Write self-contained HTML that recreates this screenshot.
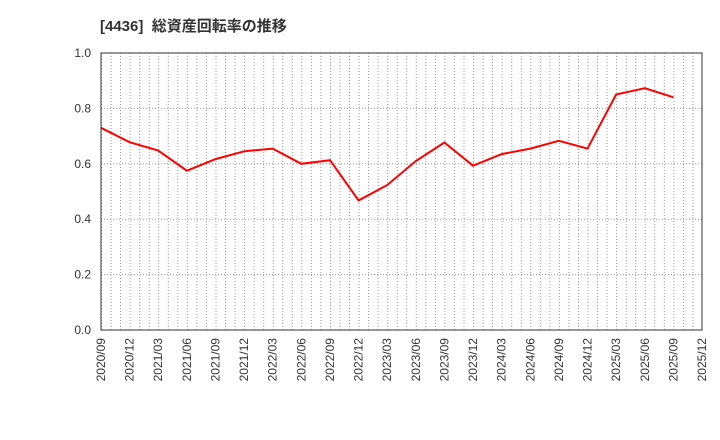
<!DOCTYPE html><html><head><style>body{margin:0;background:#fff}svg{display:block;font-family:"Liberation Sans","Noto Sans CJK JP",sans-serif}</style></head><body>
<svg width="720" height="440" xmlns="http://www.w3.org/2000/svg">
<defs><pattern id="vg" x="101" y="53" width="9.5397" height="277" patternUnits="userSpaceOnUse"><line x1="0.5" y1="0" x2="0.5" y2="277" stroke="#999" stroke-width="1" stroke-dasharray="1,2"/></pattern></defs>
<text x="100" y="31" font-size="15" font-weight="bold" fill="#333" xml:space="preserve">[4436]  総資産回転率の推移</text>
<rect x="101" y="53" width="601" height="277" fill="url(#vg)"/>
<g stroke="#999" stroke-width="1" stroke-dasharray="1,2">
<line x1="101" y1="274.6" x2="702" y2="274.6"/><line x1="101" y1="219.2" x2="702" y2="219.2"/><line x1="101" y1="163.8" x2="702" y2="163.8"/><line x1="101" y1="108.4" x2="702" y2="108.4"/>
</g>
<g font-size="12" fill="#333" text-anchor="end">
<text x="91" y="334">0.0</text><text x="91" y="278.6">0.2</text><text x="91" y="223.2">0.4</text><text x="91" y="167.8">0.6</text><text x="91" y="112.4">0.8</text><text x="91" y="57">1.0</text>
</g>
<g font-size="12" fill="#333" text-anchor="end">
<text transform="translate(105,338) rotate(-90)">2020/09</text>
<text transform="translate(133.6,338) rotate(-90)">2020/12</text>
<text transform="translate(162.2,338) rotate(-90)">2021/03</text>
<text transform="translate(190.9,338) rotate(-90)">2021/06</text>
<text transform="translate(219.5,338) rotate(-90)">2021/09</text>
<text transform="translate(248.1,338) rotate(-90)">2021/12</text>
<text transform="translate(276.7,338) rotate(-90)">2022/03</text>
<text transform="translate(305.3,338) rotate(-90)">2022/06</text>
<text transform="translate(334,338) rotate(-90)">2022/09</text>
<text transform="translate(362.6,338) rotate(-90)">2022/12</text>
<text transform="translate(391.2,338) rotate(-90)">2023/03</text>
<text transform="translate(419.8,338) rotate(-90)">2023/06</text>
<text transform="translate(448.4,338) rotate(-90)">2023/09</text>
<text transform="translate(477,338) rotate(-90)">2023/12</text>
<text transform="translate(505.7,338) rotate(-90)">2024/03</text>
<text transform="translate(534.3,338) rotate(-90)">2024/06</text>
<text transform="translate(562.9,338) rotate(-90)">2024/09</text>
<text transform="translate(591.5,338) rotate(-90)">2024/12</text>
<text transform="translate(620.1,338) rotate(-90)">2025/03</text>
<text transform="translate(648.8,338) rotate(-90)">2025/06</text>
<text transform="translate(677.4,338) rotate(-90)">2025/09</text>
<text transform="translate(706,338) rotate(-90)">2025/12</text>
</g>
<polyline fill="none" stroke="#f00" stroke-width="2" points="101,127.8 129.6,142.2 158.2,150.5 186.9,170.7 215.5,159.1 244.1,151.3 272.7,148.6 301.3,163.8 330,160.2 358.6,200.4 387.2,185.1 415.8,161 444.4,142.5 473,165.7 501.7,154.1 530.3,148.6 558.9,140.8 587.5,148.6 616.1,94.5 644.8,88.2 673.4,97.3"/>
<rect x="101" y="53" width="601" height="277" fill="none" stroke="#333" stroke-width="1"/>
</svg></body></html>
